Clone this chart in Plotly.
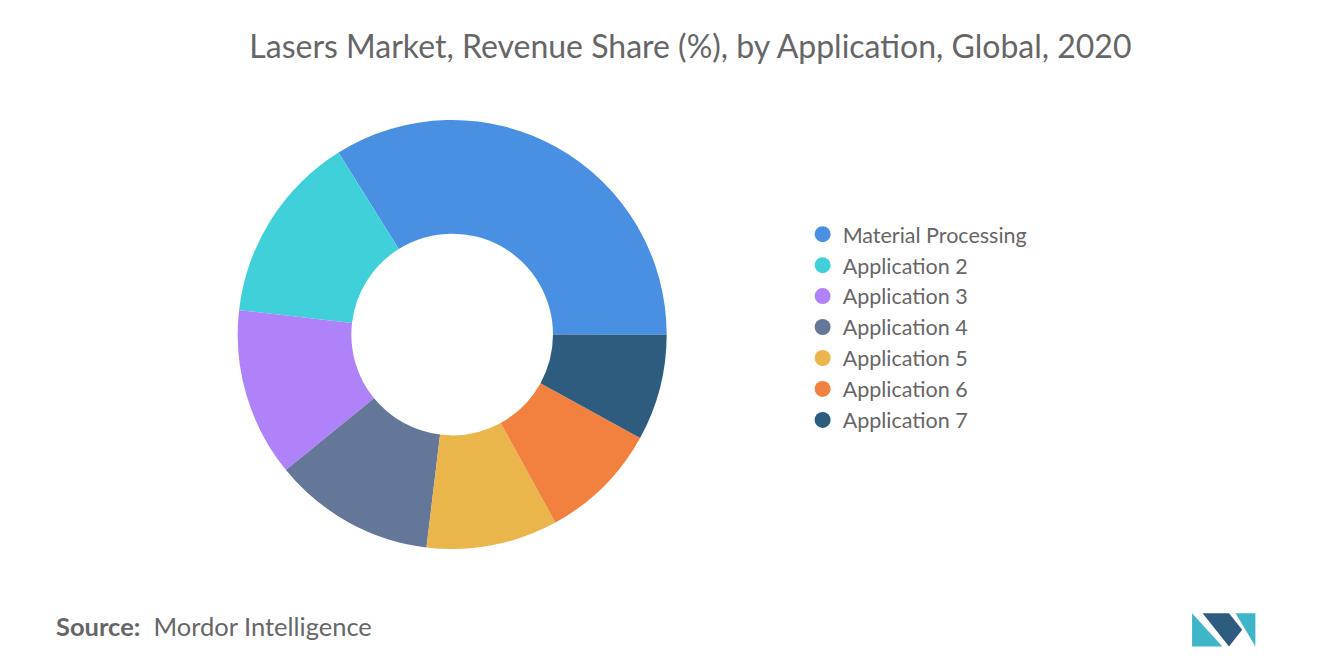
import plotly.graph_objects as go

labels = ["Material Processing", "Application 2", "Application 3", "Application 4",
          "Application 5", "Application 6", "Application 7"]
values = [33.9, 14.3, 12.7, 12.2, 9.9, 9.0, 8.0]
colors = ["#4A90E2", "#3FD0DA", "#B082FA", "#657798", "#EAB54A", "#F2813F", "#2E5C7F"]

fig = go.Figure(go.Pie(
    labels=labels, values=values, hole=0.47, sort=False,
    direction="counterclockwise", rotation=-32,
    marker=dict(colors=colors, line=dict(width=0)),
    textinfo="none", hoverinfo="label+percent", showlegend=False,
    domain=dict(x=[0.174, 0.499], y=[0.186, 0.832]),
))
for lab, col in zip(labels, colors):
    fig.add_trace(go.Scatter(x=[None], y=[None], mode="markers", name=lab,
                             marker=dict(symbol="circle", size=24, color=col)))
fig.update_layout(
    width=1320, height=665, paper_bgcolor="white", plot_bgcolor="white",
    margin=dict(l=0, r=0, t=0, b=0),
    xaxis=dict(visible=False), yaxis=dict(visible=False),
    font=dict(family="Lato, Open Sans, sans-serif", color="#666666"),
    title=dict(text="Lasers Market, Revenue Share (%), by Application, Global, 2020",
               x=0.517, xanchor="center", y=0.942, yanchor="middle",
               font=dict(size=32, color="#666666")),
    legend=dict(x=0.602, y=0.52, xanchor="left", yanchor="middle",
                font=dict(size=21.5, color="#666666"),
                tracegroupgap=0, itemwidth=30),
    annotations=[dict(text="<b>Source:</b>  Mordor Intelligence", x=0.035, y=0.07,
                      xref="paper", yref="paper", xanchor="left", yanchor="middle",
                      showarrow=False, font=dict(size=25.5, color="#666666"))],
    shapes=[
        dict(type="path", xref="paper", yref="paper",
             path="M 0.897 0.04 L 0.897 0.09 L 0.92 0.04 Z", fillcolor="#3FB6C8", line=dict(width=0)),
        dict(type="path", xref="paper", yref="paper",
             path="M 0.905 0.09 L 0.925 0.09 L 0.935 0.065 L 0.925 0.04 Z", fillcolor="#2E5C7F", line=dict(width=0)),
        dict(type="path", xref="paper", yref="paper",
             path="M 0.93 0.09 L 0.945 0.09 L 0.945 0.04 Z", fillcolor="#3FB6C8", line=dict(width=0)),
    ],
)
fig.write_html("out.html")
